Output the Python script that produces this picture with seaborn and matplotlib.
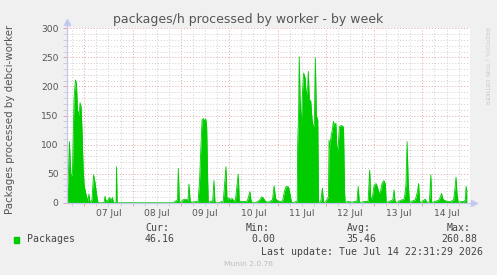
import matplotlib
matplotlib.use("Agg")
from matplotlib import pyplot as plt
import matplotlib.dates as mdates
from matplotlib.ticker import MultipleLocator, FuncFormatter, NullFormatter
from matplotlib.patches import Rectangle
import pandas as pd
import seaborn as sns

# hours since 2026-07-06 00:00 and packages/h
hours = [
    15.4, 15.6, 16.2, 16.6, 17.0, 17.4, 18.1, 18.9, 19.6, 20.1, 20.6, 21.4, 21.9, 22.4,
    22.9, 23.4, 23.9, 24.8, 25.8, 26.3, 26.8, 27.8, 28.6, 29.3, 30.3, 30.8, 33.8, 34.3,
    34.8, 35.5, 36.5, 37.3, 38.0, 38.5, 39.8, 40.0, 40.3,
    68.0, 69.0, 70.3, 70.7, 71.2, 72.0, 73.0, 74.5, 75.5, 76.0, 76.6, 77.5, 79.5, 80.5,
    81.3, 81.8, 82.5, 83.2, 83.8, 84.4, 84.8, 85.3, 85.6, 86.5, 87.8, 88.4, 88.9, 89.4,
    91.0, 92.0, 93.0, 94.4, 94.9, 95.5, 96.5, 97.5, 98.5, 99.0, 100.5, 101.0, 102.0,
    104.0, 105.0, 106.3, 106.8, 107.5, 109.5, 111.0, 112.2, 113.0, 114.0, 115.5, 117.5,
    118.3, 119.0, 119.8, 121.2, 122.5, 123.5, 124.3, 125.5, 126.2, 127.0, 128.5, 129.8,
    130.0, 130.5, 130.8, 131.2, 131.8, 132.4, 133.0, 133.7, 134.3, 135.0, 135.3, 135.8,
    136.5, 137.2, 137.8, 138.3, 138.8, 139.3, 140.0, 140.4, 141.5, 142.3, 142.8, 143.5,
    144.5, 145.3, 145.6, 146.0, 146.6, 147.2, 147.8, 148.4, 149.0, 149.6, 150.2, 150.8,
    151.8, 152.8, 153.3, 153.6, 155.0, 157.0, 159.5, 160.1, 160.6, 161.0, 163.0, 165.0,
    165.8, 166.3, 167.0, 168.0, 169.0, 169.8, 170.5, 171.2, 172.0, 172.9, 173.6, 174.0,
    176.0, 177.3, 177.9, 178.4, 179.0, 181.0, 183.0, 183.8, 184.4, 184.9, 185.5, 187.0,
    188.5, 189.6, 190.1, 190.6, 191.2, 192.5, 193.5, 194.2, 195.5, 196.2, 196.6, 198.0,
    200.0, 201.0, 201.5, 202.2, 203.0, 204.5, 206.0, 207.5, 208.2, 208.7, 209.2, 209.8,
    211.0, 212.5, 213.3, 213.7, 214.1,
]
packages = [
    0, 20, 60, 105, 70, 45, 50, 180, 211, 205, 160, 150, 172, 165,
    120, 60, 30, 15, 2, 15, 0, 5, 48, 35, 10, 0, 0, 11,
    3, 3, 9, 4, 9, 0, 0, 62, 0,
    0, 2, 5, 59, 3, 0, 5, 6, 4, 32, 2, 1, 2, 1,
    40, 85, 142, 145, 140, 144, 130, 40, 0, 2, 3, 38, 2, 0,
    0, 2, 1, 62, 5, 8, 6, 7, 3, 2, 49, 3, 2,
    2, 3, 19, 4, 0, 1, 4, 10, 8, 2, 1, 5,
    29, 8, 4, 2, 3, 20, 28, 27, 15, 0, 1, 3,
    100, 160, 251, 180, 130, 190, 223, 215, 183, 200, 226, 177,
    175, 142, 130, 135, 249, 150, 142, 0, 2, 25, 2, 0,
    5, 10, 108, 95, 114, 125, 140, 131, 137, 85, 100, 131,
    133, 130, 20, 0, 2, 1, 3, 28, 2, 0, 2, 2,
    56, 10, 6, 30, 33, 25, 16, 20, 34, 38, 32, 0,
    3, 5, 22, 2, 0, 4, 6, 30, 105, 40, 0, 3,
    5, 20, 33, 3, 0, 4, 6, 0, 2, 48, 0, 2,
    4, 10, 16, 6, 4, 2, 2, 5, 25, 44, 15, 0,
    2, 2, 5, 28, 20,
]

title = "packages/h processed by worker - by week"
ylabel = "Packages processed by debci-worker"
series_name = "Packages"
stat_names = ["Cur:", "Min:", "Avg:", "Max:"]
stat_values = ["46.16", "0.00", "35.46", "260.88"]
last_update = "Last update: Tue Jul 14 22:31:29 2026"
footer = "Munin 2.0.76"
side_note = "RRDTOOL / TOBI OETIKER"

GREEN = "#00cc00"
W, H = 497, 275

sns.set_theme(style="white")
plt.rcParams["font.family"] = ["DejaVu Sans"]

base = pd.Timestamp("2026-07-06")
df = pd.DataFrame({
    "time": base + pd.to_timedelta(hours, unit="h"),
    "packages": packages,
})

fig = plt.figure(figsize=(W / 100, H / 100), dpi=100, facecolor="#f0f0f0")
ax = fig.add_axes([67 / W, 1 - 202.7 / H, 402.5 / W, 174.4 / H])
ax.set_facecolor("white")

ax.fill_between(df["time"], df["packages"], color=GREEN, lw=0, zorder=2)
sns.lineplot(data=df, x="time", y="packages", color=GREEN, lw=0.6, ax=ax, zorder=3)

ax.set_xlim(base + pd.Timedelta(hours=15.4), base + pd.Timedelta(hours=215.4))
ax.set_ylim(0, 300)
ax.set_xlabel("")
ax.set_ylabel("")

# grid: red dotted at days / 50, grey dotted at 6h / 10
ax.xaxis.set_major_locator(mdates.DayLocator())
ax.xaxis.set_minor_locator(mdates.HourLocator(byhour=[6, 12, 18]))
ax.xaxis.set_major_formatter(NullFormatter())
ax.xaxis.set_minor_formatter(FuncFormatter(
    lambda v, p: mdates.num2date(v).strftime("%d %b") if mdates.num2date(v).hour == 12 else ""))
ax.yaxis.set_major_locator(MultipleLocator(50))
ax.yaxis.set_minor_locator(MultipleLocator(10))
ax.grid(which="major", color="#e9a3a3", ls=(0, (1, 2)), lw=0.7)
ax.grid(which="minor", color="#cfcfcf", ls=(0, (1, 2)), lw=0.7)
ax.set_axisbelow(True)

ax.tick_params(axis="x", which="both", length=2, width=0.7, pad=2.5,
               labelsize=6.6, labelcolor="#555555", bottom=True)
ax.tick_params(axis="x", which="major", color="#e9a3a3")
ax.tick_params(axis="x", which="minor", color="#cfcfcf")
ax.tick_params(axis="y", which="both", length=3, width=0.7, pad=3,
               labelsize=6.6, labelcolor="#555555", left=True)
ax.tick_params(axis="y", which="major", color="#e9a3a3")
ax.tick_params(axis="y", which="minor", color="#cfcfcf")

for s in ax.spines.values():
    s.set_visible(False)

# axis lines with arrows
axis_col = "#c4c8f0"
ax.plot([0, 0], [0, 1.03], transform=ax.transAxes, color=axis_col, lw=0.9, clip_on=False, zorder=4)
ax.plot([0, 1.008], [0, 0], transform=ax.transAxes, color=axis_col, lw=0.9, clip_on=False, zorder=4)
ax.plot([0], [1.035], marker="^", ms=4, color=axis_col, transform=ax.transAxes, clip_on=False)
ax.plot([1.012], [0], marker=">", ms=4, color=axis_col, transform=ax.transAxes, clip_on=False)

def fx(px):
    return px / W

def fy(py):
    return 1 - py / H

fig.text(fx(248), fy(19), title, ha="center", va="center", fontsize=9, color="#555555")
fig.text(fx(10), fy(119), ylabel, ha="center", va="center", rotation=90,
         fontsize=7.4, color="#555555")
fig.text(fx(487), fy(66), side_note, ha="center", va="center", rotation=270,
         fontsize=4.3, color="#c8c8c8")

mono = dict(family="DejaVu Sans Mono", fontsize=7.1, color="#444444", va="center")
fig.patches.append(Rectangle((fx(14), fy(242.7)), 5.3 / W, 5.4 / H,
                             transform=fig.transFigure, color=GREEN, figure=fig))
fig.text(fx(26.7), fy(239.5), series_name, **mono)
name_x = [145, 245.3, 346.7, 446.7]
value_x = [145, 251.7, 346.7, 441.7]
for name, val, nx, vx in zip(stat_names, stat_values, name_x, value_x):
    fig.text(fx(nx), fy(228.3), name, **mono)
    fig.text(fx(vx), fy(239.5), val, **mono)
fig.text(fx(482.7), fy(251.7), last_update, ha="right",
         **{k: v for k, v in mono.items()})
fig.text(fx(248), fy(264), footer, ha="center", va="center", fontsize=5.4, color="#bdbdbd")

fig.savefig("out.png", dpi=100, facecolor=fig.get_facecolor())
